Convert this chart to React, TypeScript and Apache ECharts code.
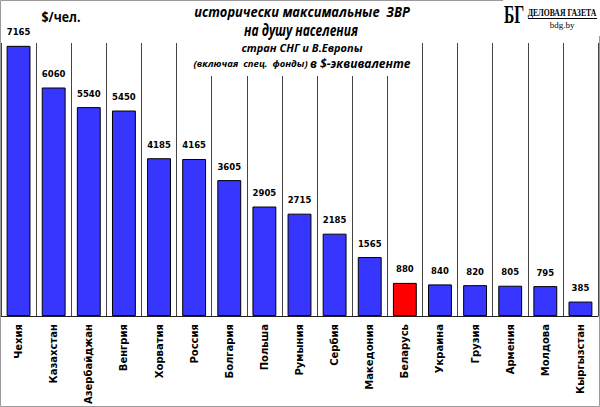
import React, { useEffect, useRef } from "react";
import * as echarts from "echarts";

const categories = [
  "Чехия", "Казахстан", "Азербайджан", "Венгрия", "Хорватия", "Россия",
  "Болгария", "Польша", "Румыния", "Сербия", "Македония", "Беларусь",
  "Украина", "Грузия", "Армения", "Молдова", "Кыргызстан",
];
const values = [7165, 6060, 5540, 5450, 4185, 4165, 3605, 2905, 2715, 2185, 1565, 880, 840, 820, 805, 795, 385];
const highlighted = "Беларусь";
const unitLabel = "$/чел.";
const titleLine1 = "исторически максимальные  ЗВР";
const titleLine2 = "на душу населения";
const titleLine3 = "стран СНГ и В.Европы";
const titleLine4a = "(включая  спец.  фонды) ";
const titleLine4b = "в $-эквиваленте";
const logoMark = "БГ";
const logoName = "ДЕЛОВАЯ ГАЗЕТА";
const logoSite = "bdg.by";

const TITLE_FONT = "'Open Sans', 'DejaVu Sans', sans-serif";
const SERIF = "'Liberation Serif', 'DejaVu Serif', serif";

export default function App() {
  const ref = useRef<HTMLDivElement>(null);
  useEffect(() => {
    document.body.style.margin = "0";
    if (!ref.current) return;
    const chart = echarts.init(ref.current, null, { renderer: "svg" });
    chart.setOption({
      animation: false,
      backgroundColor: "#ffffff",
      grid: { left: 1, right: 2, top: 43, bottom: 86, containLabel: false },
      xAxis: {
        type: "category",
        data: categories,
        axisLine: { show: true, lineStyle: { color: "#222", width: 1 } },
        axisTick: { show: false },
        splitLine: { show: true, interval: 0, lineStyle: { color: "#444", width: 1 } },
        axisLabel: {
          interval: 0,
          rotate: 90,
          margin: 8,
          color: "#000",
          fontFamily: "'DejaVu Sans', sans-serif",
          fontWeight: "bold",
          fontSize: 10,
        },
      },
      yAxis: {
        type: "value",
        min: 0,
        max: 7240,
        show: false,
        splitLine: { show: false },
      },
      series: [
        {
          type: "bar",
          barWidth: "68%",
          data: values.map((v, i) => ({
            value: v,
            itemStyle: {
              color: categories[i] === highlighted ? "#ff0000" : "#3636ff",
              borderColor: "#000",
              borderWidth: 1,
            },
          })),
          label: {
            show: true,
            position: "top",
            distance: 9,
            color: "#000",
            fontFamily: "'DejaVu Sans', sans-serif",
            fontWeight: "bold",
            fontSize: 8.5,
          },
        },
      ],
      graphic: [
        {
          type: "rect",
          z: 100,
          shape: { x: 0.5, y: 0.5, width: 599, height: 406 },
          style: { fill: "none", stroke: "#9a9a9a", lineWidth: 1 },
        },
        {
          type: "rect",
          z: 101,
          shape: { x: 182, y: 1, width: 236, height: 75 },
          style: { fill: "#ffffff" },
        },
        {
          type: "rect",
          z: 101,
          shape: { x: 503, y: 0, width: 97, height: 36 },
          style: { fill: "#ffffff" },
        },
        {
          type: "text",
          z: 102,
          x: 302,
          y: 12,
          scaleX: 0.92,
          style: {
            text: titleLine1,
            font: `italic bold 14px ${TITLE_FONT}`,
            fill: "#000",
            align: "center",
            verticalAlign: "middle",
          },
        },
        {
          type: "text",
          z: 102,
          x: 301,
          y: 30,
          scaleX: 0.75,
          style: {
            text: titleLine2,
            font: `italic bold 16px ${TITLE_FONT}`,
            fill: "#000",
            align: "center",
            verticalAlign: "middle",
          },
        },
        {
          type: "text",
          z: 102,
          x: 302,
          y: 47,
          style: {
            text: titleLine3,
            font: `italic bold 11px ${TITLE_FONT}`,
            fill: "#000",
            align: "center",
            verticalAlign: "middle",
          },
        },
        {
          type: "text",
          z: 102,
          x: 302,
          y: 63,
          style: {
            text: `{a|${titleLine4a}}{b|${titleLine4b}}`,
            align: "center",
            verticalAlign: "middle",
            rich: {
              a: { font: `italic bold 9.5px ${TITLE_FONT}`, fill: "#000" },
              b: { font: `italic bold 12px ${TITLE_FONT}`, fill: "#000" },
            },
          },
        },
        {
          type: "text",
          z: 102,
          x: 61,
          y: 16,
          scaleX: 0.82,
          style: {
            text: unitLabel,
            font: `bold 15px ${TITLE_FONT}`,
            fill: "#000",
            align: "center",
            verticalAlign: "middle",
          },
        },
        {
          type: "text",
          z: 102,
          x: 514,
          y: 15,
          scaleX: 0.6,
          style: {
            text: logoMark,
            font: `bold 26px ${SERIF}`,
            fill: "#000",
            align: "center",
            verticalAlign: "middle",
          },
        },
        {
          type: "text",
          z: 102,
          x: 562,
          y: 13,
          scaleX: 0.7,
          style: {
            text: logoName,
            font: `bold 11px ${SERIF}`,
            fill: "#000",
            align: "center",
            verticalAlign: "middle",
          },
        },
        {
          type: "line",
          z: 102,
          shape: { x1: 528, y1: 18.5, x2: 597, y2: 18.5 },
          style: { stroke: "#000", lineWidth: 1 },
        },
        {
          type: "text",
          z: 102,
          x: 562,
          y: 25,
          style: {
            text: logoSite,
            font: `9px ${SERIF}`,
            fill: "#000",
            align: "center",
            verticalAlign: "middle",
          },
        },
      ],
    });
    return () => chart.dispose();
  }, []);
  return <div ref={ref} style={{ width: 600, height: 407 }} />;
}
